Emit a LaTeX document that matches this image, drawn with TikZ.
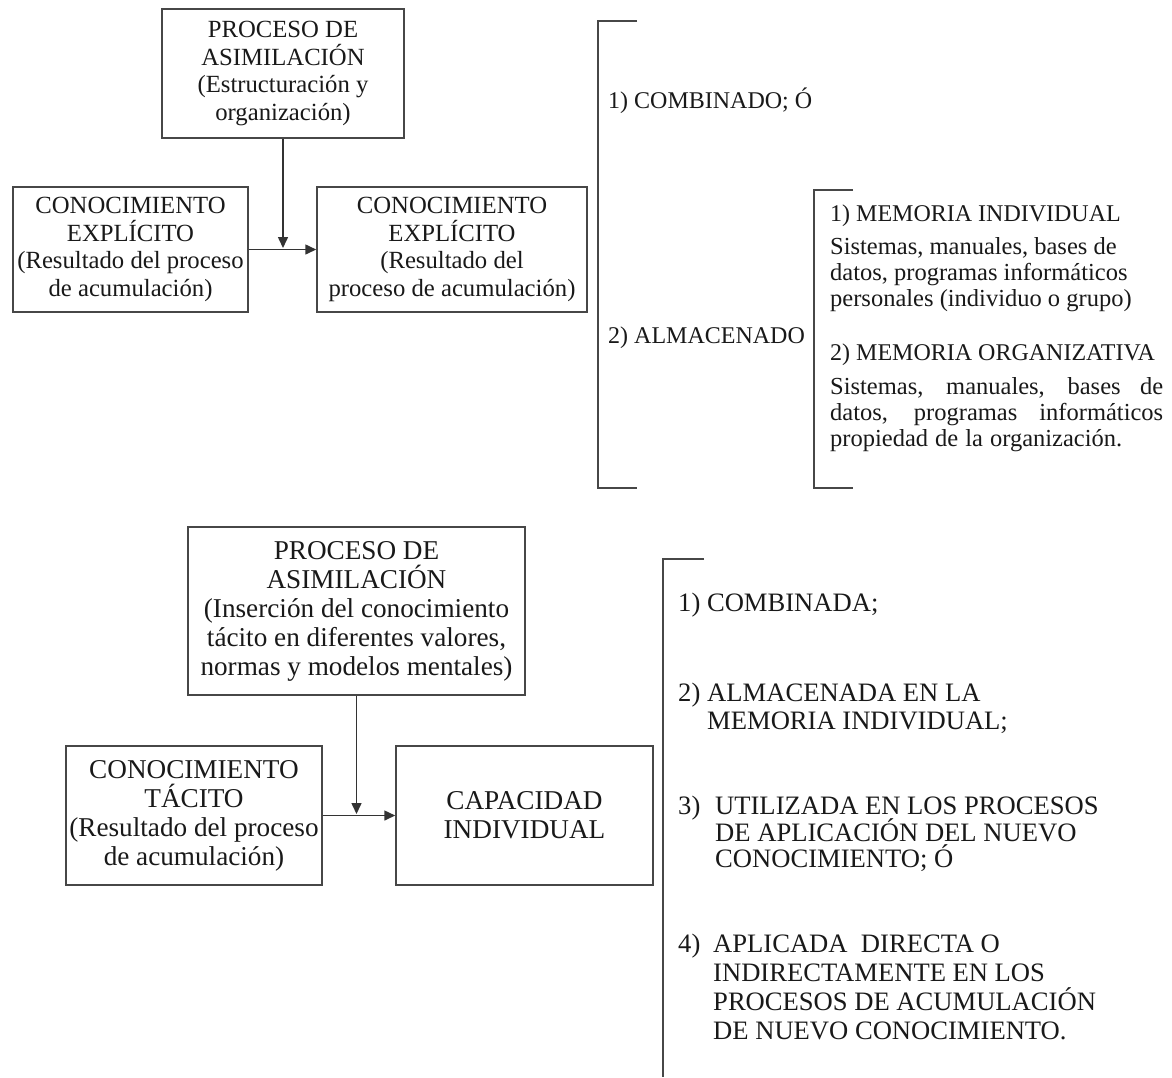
\documentclass[tikz,border=0pt]{standalone}
\usepackage{fontspec}
\setmainfont{Liberation Serif}
\usetikzlibrary{arrows.meta}

\begin{document}
\begin{tikzpicture}[x=1pt,y=-1pt,
  box/.style={draw=black!72, line width=1.5pt, inner sep=0pt, align=center, text=black!90},
  topbox/.style={box, font=\fontsize{24.7}{27.6}\selectfont},
  lowbox/.style={box, font=\fontsize{27.2}{29}\selectfont},
  link/.style={draw=black!80, line width=1.5pt, -{Triangle[length=11pt,width=10pt]}},
  brace/.style={draw=black!72, line width=1.5pt},
  toplist/.style={anchor=base west, inner sep=0pt, text=black!90, font=\fontsize{24}{27}\selectfont},
  memhead/.style={anchor=base west, inner sep=0pt, text=black!90, font=\fontsize{24}{27}\selectfont},
  membody/.style={anchor=base west, inner sep=0pt, text=black!90, font=\fontsize{24.5}{26}\selectfont},
  lowlist/.style={anchor=base west, inner sep=0pt, text=black!90, font=\fontsize{26.6}{28}\selectfont},
]
% page
\fill[white] (0,0) rectangle (1172,1077);
\useasboundingbox (0,0) rectangle (1172,1077);

% ---------- explicit knowledge ----------
\node[topbox, minimum width=242pt, minimum height=129pt] (asimA) at (283,73.5)
  {PROCESO DE\\ASIMILACIÓN\\(Estructuración y\\organización)};
\node[topbox, minimum width=235pt, minimum height=125pt] (explB) at (130.5,249.5)
  {CONOCIMIENTO\\EXPLÍCITO\\(Resultado del proceso\\de acumulación)};
\node[topbox, minimum width=270pt, minimum height=125pt] (explC) at (452,249.5)
  {CONOCIMIENTO\\EXPLÍCITO\\(Resultado del\\proceso de acumulación)};
\draw[link] (explB.east) -- (explC.west);
\draw[link, shorten >=1.5pt] (asimA.south) -- (asimA.south |- explB.east);

% outer and inner brackets
\draw[brace] (637,21) -- (598,21) -- (598,488) -- (637,488);
\draw[brace] (853,190) -- (814,190) -- (814,488) -- (853,488);

\node[toplist] (comb) at (608,108) {1) COMBINADO; Ó};
\node[toplist] (alm) at (608,343) {2) ALMACENADO};

\node[memhead] (mi) at (830,221) {1) MEMORIA INDIVIDUAL};
\node[membody] (mi1) at (830,254) {Sistemas, manuales, bases de};
\node[membody] (mi2) at (830,280) {datos, programas informáticos};
\node[membody] (mi3) at (830,306) {personales (individuo o grupo)};
\node[memhead] (mo) at (830,360) {2) MEMORIA ORGANIZATIVA};
\node[membody] (mo1) at (830,394) {\makebox[333pt][s]{Sistemas, manuales, bases de}};
\node[membody] (mo2) at (830,420) {\makebox[333pt][s]{datos, programas informáticos}};
\node[membody] (mo3) at (830,446) {\makebox[292pt][s]{propiedad de la organización.}};

% ---------- tacit knowledge ----------
\node[lowbox, minimum width=337pt, minimum height=168pt] (asimD) at (356.5,611)
  {PROCESO DE\\ASIMILACIÓN\\(Inserción del conocimiento\\tácito en diferentes valores,\\normas y modelos mentales)};
\node[lowbox, minimum width=256pt, minimum height=139pt] (tacE) at (194,815.5)
  {CONOCIMIENTO\\TÁCITO\\(Resultado del proceso\\de acumulación)};
\node[lowbox, minimum width=257pt, minimum height=139pt] (capF) at (524.5,815.5)
  {CAPACIDAD\\INDIVIDUAL};
\draw[link] (tacE.east) -- (capF.west);
\draw[link, shorten >=1.5pt] (asimD.south) -- (asimD.south |- tacE.east);

\draw[brace] (704,559) -- (663,559) -- (663,1077);

\node[lowlist] (c1) at (678,611) {1) COMBINADA;};
\node[lowlist] (c2) at (678,701) {\makebox[29pt][l]{2)}ALMACENADA EN LA};
\node[lowlist] (c2b) at (707,729) {MEMORIA INDIVIDUAL;};
\node[lowlist] (c3) at (678,814) {\makebox[37pt][l]{3)}UTILIZADA EN LOS PROCESOS};
\node[lowlist] (c3b) at (715,841) {DE APLICACIÓN DEL NUEVO};
\node[lowlist] (c3c) at (715,867) {CONOCIMIENTO; Ó};
\node[lowlist] (c4) at (678,952) {\makebox[35pt][l]{4)}APLICADA\ \ DIRECTA O};
\node[lowlist] (c4b) at (713,981) {INDIRECTAMENTE EN LOS};
\node[lowlist] (c4c) at (713,1010) {PROCESOS DE ACUMULACIÓN};
\node[lowlist] (c4d) at (713,1039) {DE NUEVO CONOCIMIENTO.};
\end{tikzpicture}
\end{document}
